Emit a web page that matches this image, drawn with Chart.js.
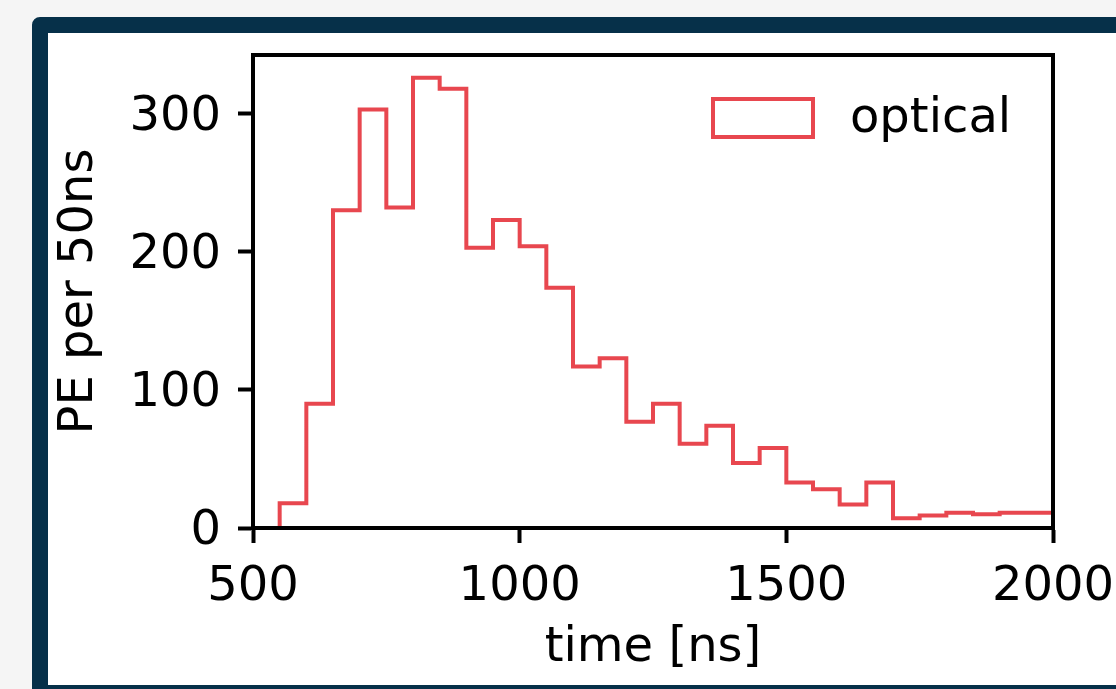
<!DOCTYPE html>
<html>
<head>
<meta charset="utf-8">
<script src="https://cdn.jsdelivr.net/npm/chart.js@4.4.1/dist/chart.umd.min.js"></script>
<style>
  html, body { margin: 0; padding: 0; background: #f5f5f5; overflow: hidden; }
  .frame {
    position: absolute; left: 32px; top: 17px;
    width: 1200px; height: 684px; box-sizing: border-box;
    border: 16px solid #063049; border-radius: 8px; background: #fff;
  }
  #hist { position: absolute; left: 0; top: 0; }
</style>
</head>
<body>
<div class="frame"></div>
<canvas id="hist" width="1116" height="689"></canvas>
<script>
// left edges of the 50 ns bins, and the last right edge
const binEdges = [500, 550, 600, 650, 700, 750, 800, 850, 900, 950,
                  1000, 1050, 1100, 1150, 1200, 1250, 1300, 1350, 1400, 1450,
                  1500, 1550, 1600, 1650, 1700, 1750, 1800, 1850, 1900, 1950, 2000];
// PE per bin (one less than edges)
const peCounts = [0, 18, 90, 230, 303, 232, 326, 318, 203, 223,
                  204, 174, 117, 123, 77, 90, 61, 74, 47, 58,
                  33, 28, 17, 33, 7, 9, 11, 10, 11, 11];
const xTicks = [500, 1000, 1500, 2000];
const yTicks = [0, 100, 200, 300];
const seriesLabel = 'optical';

const red = '#e8474f';
const fontSize = 48;

// step outline: each bin value at its left edge, held until the next edge, closed at the end
const stepPoints = peCounts.map((v, i) => ({ x: binEdges[i], y: v }));
stepPoints.push({ x: binEdges[binEdges.length - 1], y: peCounts[peCounts.length - 1] });
stepPoints.push({ x: binEdges[binEdges.length - 1], y: 0 });

Chart.defaults.font.family = "'DejaVu Sans'";
Chart.defaults.color = '#000';

// box around the axes (top and right spines)
const spines = {
  id: 'spines',
  afterDatasetsDraw(chart) {
    const { ctx, chartArea: a } = chart;
    ctx.save();
    ctx.strokeStyle = '#000';
    ctx.lineWidth = 4;
    ctx.strokeRect(a.left, a.top, a.right - a.left, a.bottom - a.top);
    ctx.restore();
  }
};

// matplotlib style legend in the upper right of the axes
const cornerLegend = {
  id: 'cornerLegend',
  afterDraw(chart) {
    const { ctx, chartArea: a } = chart;
    const ds = chart.data.datasets[0];
    const boxLeft = a.right - 340, boxTop = a.top + 44;
    ctx.save();
    ctx.strokeStyle = ds.borderColor;
    ctx.lineWidth = 4;
    ctx.strokeRect(boxLeft, boxTop, 100, 38);
    ctx.fillStyle = '#000';
    ctx.font = fontSize + "px 'DejaVu Sans'";
    ctx.textBaseline = 'middle';
    ctx.textAlign = 'left';
    ctx.fillText(ds.label, boxLeft + 137, boxTop + 21);
    ctx.restore();
  }
};

const plainTick = (v) => String(v);

new Chart(document.getElementById('hist'), {
  type: 'line',
  data: {
    datasets: [{
      label: seriesLabel,
      data: stepPoints,
      stepped: 'before',
      borderColor: red,
      backgroundColor: 'transparent',
      borderWidth: 4,
      pointRadius: 0,
      fill: false
    }]
  },
  options: {
    responsive: false,
    animation: false,
    devicePixelRatio: 1,
    layout: { padding: { top: 55, right: 63, bottom: 0, left: 0 } },
    plugins: { legend: { display: false }, tooltip: { enabled: false } },
    scales: {
      x: {
        type: 'linear',
        min: 500,
        max: 2000,
        afterFit: (s) => { s.height = 161; s.paddingLeft = 0; s.paddingRight = 0; },
        afterBuildTicks: (s) => { s.ticks = xTicks.map(v => ({ value: v })); },
        ticks: { font: { size: fontSize }, padding: 16, maxRotation: 0, includeBounds: false, callback: plainTick },
        grid: { drawOnChartArea: false, drawTicks: true, tickLength: 15, tickWidth: 4, tickColor: '#000' },
        border: { display: true, color: '#000', width: 4 },
        title: { display: true, text: 'time [ns]', font: { size: fontSize }, padding: { top: 0, bottom: 12 } }
      },
      y: {
        min: 0,
        max: 342.5,
        afterFit: (s) => { s.width = 253; s.paddingTop = 0; s.paddingBottom = 0; },
        afterBuildTicks: (s) => { s.ticks = yTicks.map(v => ({ value: v })); },
        ticks: { font: { size: fontSize }, padding: 17, labelOffset: 4, includeBounds: false, callback: plainTick },
        grid: { drawOnChartArea: false, drawTicks: true, tickLength: 15, tickWidth: 4, tickColor: '#000' },
        border: { display: true, color: '#000', width: 4 },
        title: { display: true, text: 'PE per 50ns', font: { size: fontSize }, padding: { top: 51, bottom: 0 } }
      }
    }
  },
  plugins: [spines, cornerLegend]
});
</script>
</body>
</html>
